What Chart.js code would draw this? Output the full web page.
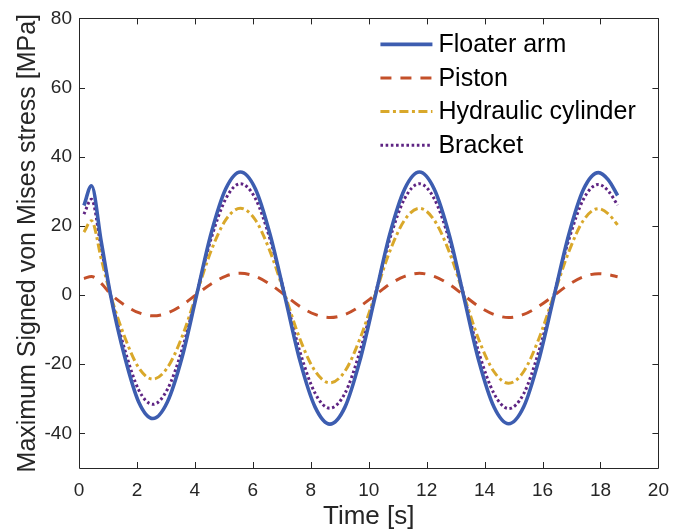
<!DOCTYPE html>
<html>
<head>
<meta charset="utf-8">
<script src="https://cdn.jsdelivr.net/npm/chart.js@4.4.1/dist/chart.umd.min.js"></script>
<style>
html,body{margin:0;padding:0;background:#fff;}
#wrap{position:relative;width:680px;height:532px;}
</style>
</head>
<body>
<div id="wrap"><canvas id="c"></canvas></div>
<script>
// ---- data ----
const time = [0.17,0.43,0.77,1.09,1.58,2.06,2.55,
  3.05,3.56,4.06,4.56,5.07,5.57,
  6.09,6.60,7.12,7.63,8.15,8.66,
  9.18,9.69,10.21,10.72,11.24,11.75,
  12.26,12.78,13.29,13.80,14.32,14.83,
  15.35,15.86,16.38,16.90,17.41,17.93,
  18.27,18.59];
const floaterArm = [25.9,31.6,15.3,0,-17.9,-30.9,-35.7,
  -30.9,-17.9,0,17.8,30.8,35.6,
  30.7,17.4,-0.9,-19.1,-32.4,-37.3,
  -32.4,-19.1,-0.9,17.4,30.7,35.6,
  30.7,17.4,-0.8,-19.0,-32.3,-37.2,
  -32.3,-19.1,-0.9,17.3,30.5,35.4,
  33.3,28.8];
const piston = [4.8,5.4,3.4,0.3,-2.9,-5.1,-6.0,
  -5.2,-2.9,0.2,3.2,5.5,6.3,
  5.4,3.1,-0.1,-3.3,-5.6,-6.5,
  -5.6,-3.3,-0.1,3.1,5.4,6.3,
  5.4,3.1,-0.1,-3.3,-5.6,-6.5,
  -5.6,-3.3,-0.2,3.0,5.3,6.2,
  5.9,5.3];
const hydraulicCylinder = [18.2,21.5,10.4,0,-12.2,-21.0,-24.3,
  -21.0,-12.0,0.4,12.8,21.8,25.1,
  21.7,12.5,-0.2,-12.8,-22.0,-25.4,
  -22.0,-12.8,-0.2,12.5,21.7,25.1,
  21.7,12.5,-0.2,-12.9,-22.1,-25.5,
  -22.1,-12.9,-0.3,12.4,21.6,25.0,
  23.5,20.3];
const bracket = [23.4,27.7,13.4,0,-15.8,-27.4,-31.6,
  -27.3,-15.7,0.3,16.3,27.9,32.2,
  27.9,16.0,-0.3,-16.5,-28.4,-32.7,
  -28.4,-16.5,-0.3,16.0,27.9,32.2,
  27.9,16.0,-0.3,-16.6,-28.4,-32.8,
  -28.5,-16.6,-0.4,15.8,27.7,32.0,
  30.1,26.0];
const seriesNames = ['Floater arm','Piston','Hydraulic cylinder','Bracket'];
const xTicks = [0,2,4,6,8,10,12,14,16,18,20];
const yTicks = [-40,-20,0,20,40,60,80];
const xTitle = 'Time [s]';
const yTitle = 'Maximum Signed von Mises stress [MPa]';

// ---- styles ----
const FONT = "'Liberation Sans', Arial, Helvetica, sans-serif";
const AXIS_COLOR = '#262626';
const styles = [
  {color:'#3D5DB0', width:3.6, dash:[]},
  {color:'#C4502A', width:3, dash:[11,9]},
  {color:'#D9A82A', width:3, dash:[9,3.5,3,3.5]},
  {color:'#5E2483', width:3, dash:[2.6,2.6]}
];
const seriesValues = [floaterArm, piston, hydraulicCylinder, bracket];

const datasets = seriesValues.map((vals, i) => ({
  label: seriesNames[i],
  data: time.map((t, k) => ({x: t, y: vals[k]})),
  borderColor: styles[i].color,
  borderWidth: styles[i].width,
  borderDash: styles[i].dash,
  borderCapStyle: 'butt',
  borderJoinStyle: 'round',
  pointRadius: 0,
  fill: false,
  cubicInterpolationMode: 'monotone'
}));

const boxAndTicks = {
  id: 'boxAndTicks',
  afterDatasetsDraw(chart) {
    const {ctx, chartArea: a, scales: {x, y}} = chart;
    ctx.save();
    ctx.strokeStyle = AXIS_COLOR;
    ctx.lineWidth = 1;
    ctx.setLineDash([]);
    ctx.beginPath();
    ctx.rect(Math.round(a.left) + 0.5, Math.round(a.top) + 0.5,
             Math.round(a.right - a.left), Math.round(a.bottom - a.top));
    const L = 6;
    xTicks.forEach(v => {
      const px = Math.round(x.getPixelForValue(v)) + 0.5;
      ctx.moveTo(px, a.bottom); ctx.lineTo(px, a.bottom - L);
      ctx.moveTo(px, a.top); ctx.lineTo(px, a.top + L);
    });
    yTicks.forEach(v => {
      const py = Math.round(y.getPixelForValue(v)) + 0.5;
      ctx.moveTo(a.left, py); ctx.lineTo(a.left + L, py);
      ctx.moveTo(a.right, py); ctx.lineTo(a.right - L, py);
    });
    ctx.stroke();
    ctx.restore();
  }
};

const insideLegend = {
  id: 'insideLegend',
  afterDraw(chart) {
    const {ctx, chartArea: a} = chart;
    const x0 = a.right - 278, x1 = a.right - 226, tx = a.right - 220;
    ctx.save();
    ctx.font = "25px " + FONT;
    ctx.textBaseline = 'middle';
    ctx.textAlign = 'left';
    chart.data.datasets.forEach((ds, i) => {
      const yy = a.top + 26 + i * 33.6;
      ctx.strokeStyle = ds.borderColor;
      ctx.lineWidth = ds.borderWidth;
      ctx.lineCap = 'butt';
      ctx.setLineDash(ds.borderDash || []);
      ctx.beginPath();
      ctx.moveTo(x0, yy); ctx.lineTo(x1, yy);
      ctx.stroke();
      ctx.setLineDash([]);
      ctx.fillStyle = '#000';
      ctx.fillText(ds.label, tx, yy + 1);
    });
    ctx.restore();
  }
};

new Chart(document.getElementById('c'), {
  type: 'line',
  data: {datasets},
  options: {
    responsive: true,
    maintainAspectRatio: false,
    animation: false,
    layout: {padding: {left: 0, top: 14, right: 21, bottom: 0}},
    plugins: {legend: {display: false}, tooltip: {enabled: false}},
    scales: {
      x: {
        type: 'linear', min: 0, max: 20,
        afterBuildTicks: s => { s.ticks = xTicks.map(v => ({value: v})); },
        afterFit: s => { s.height = 64; },
        grid: {display: false, drawTicks: false},
        border: {display: false},
        ticks: {color: AXIS_COLOR, font: {family: FONT, size: 19}, padding: 11, maxRotation: 0, autoSkip: false},
        title: {display: true, text: xTitle, color: AXIS_COLOR, font: {family: FONT, size: 26}, padding: {top: 0, bottom: 0}}
      },
      y: {
        type: 'linear', min: -50, max: 80,
        afterBuildTicks: s => { s.ticks = yTicks.map(v => ({value: v})); },
        afterFit: s => { s.width = 79; },
        grid: {display: false, drawTicks: false},
        border: {display: false},
        ticks: {color: AXIS_COLOR, font: {family: FONT, size: 19}, padding: 7, autoSkip: false},
        title: {display: true, text: yTitle, color: AXIS_COLOR, font: {family: FONT, size: 25}, padding: {top: 13, bottom: 0}}
      }
    }
  },
  plugins: [boxAndTicks, insideLegend]
});
</script>
</body>
</html>
